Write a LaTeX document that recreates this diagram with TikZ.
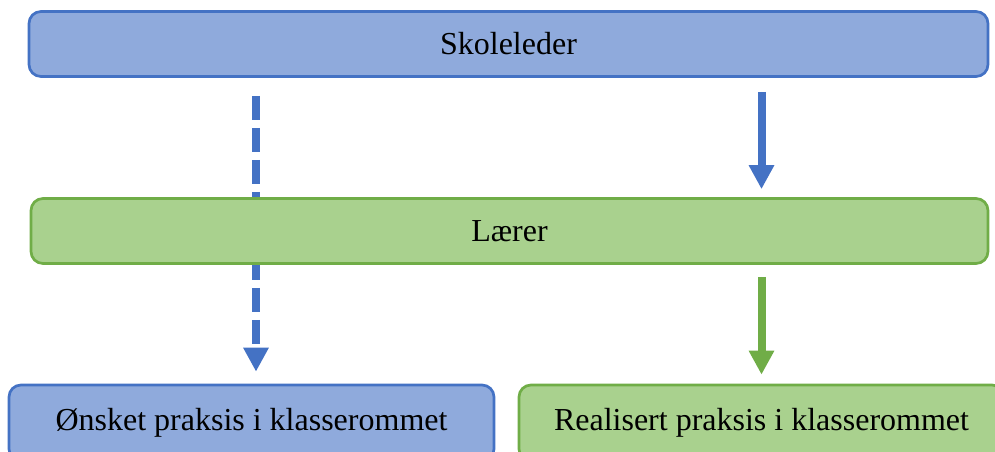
\documentclass[tikz,border=0pt]{standalone}
\usepackage{fontspec}
\setmainfont{Liberation Serif}
\usepackage{tikz}
\usetikzlibrary{arrows.meta,backgrounds}
\definecolor{boxblue}{HTML}{8FAADC}
\definecolor{lineblue}{HTML}{4472C4}
\definecolor{boxgreen}{HTML}{A9D18E}
\definecolor{linegreen}{HTML}{70AD47}
\tikzset{
  level/.style={draw, rounded corners=12pt, line width=2.7pt, minimum height=65pt,
    inner sep=0pt, font=\fontsize{32}{38}\selectfont},
  leaderbox/.style={level, draw=lineblue, fill=boxblue},   % school leader
  teacherbox/.style={level, draw=linegreen, fill=boxgreen}, % teacher
  flowArrow/.style={-{Triangle[width=24pt,length=24pt]}, line width=8pt},
  wishArrow/.style={flowArrow, draw=lineblue, dash pattern=on 24pt off 8pt}
}
\begin{document}
\begin{tikzpicture}[x=1pt,y=-1pt]
  \useasboundingbox (0,0) rectangle (995,452);
  % Levels
  \node[leaderbox, minimum width=959pt] (leder) at (508.5,44) {Skoleleder};
  \node[teacherbox, minimum width=957pt] (laerer) at (509.5,231) {Lærer};
  % Practice
  \node[leaderbox, minimum width=485pt, minimum height=76pt] (onsket) at (251.5,423) {Ønsket praksis i klasserommet};
  \node[teacherbox, minimum width=485pt, minimum height=76pt] (realisert) at (761.5,423) {Realisert praksis i klasserommet};

  % Arrows
  \begin{scope}[on background layer]
    \draw[wishArrow, shorten <=18pt, shorten >=12pt]
      ([xshift=4.5pt]leder.south -| onsket.north) -- ([xshift=4.5pt]onsket.north);
  \end{scope}
  \draw[flowArrow, draw=lineblue, fill=lineblue, shorten <=14pt, shorten >=8pt]
    (leder.south -| realisert.north) -- (laerer.north -| realisert.north);
  \draw[flowArrow, draw=linegreen, fill=linegreen, shorten <=12pt, shorten >=9pt]
    (laerer.south -| realisert.north) -- (realisert.north);
\end{tikzpicture}
\end{document}
